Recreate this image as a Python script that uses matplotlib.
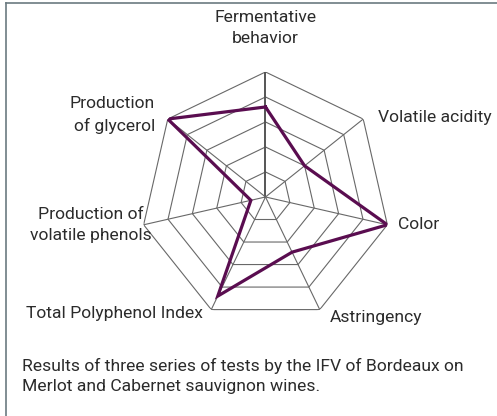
import numpy as np
import matplotlib
matplotlib.use("Agg")
import matplotlib.pyplot as plt
from matplotlib.lines import Line2D

plt.rcParams['font.family'] = ['Roboto', 'DejaVu Sans']

categories = [
    "Fermentative\nbehavior",
    "Volatile acidity",
    "Color",
    "Astringency",
    "Total Polyphenol Index",
    "Production of\nvolatile phenols",
    "Production\nof glycerol",
]
values = [3.6, 2.0, 5.0, 2.45, 4.4, 0.6, 5.0]
levels = [1, 2, 3, 4, 5]
caption = ("Results of three series of tests by the IFV of Bordeaux on\n"
           "Merlot and Cabernet sauvignon wines.")

line_col = '#5a0d50'
grid_col = '#686868'
text_col = '#2b2b2b'

n = len(categories)
angles = np.linspace(0, 2 * np.pi, n, endpoint=False)
closed = np.append(angles, angles[0])

fig = plt.figure(figsize=(4.97, 4.16), dpi=100)
ax = fig.add_axes([0.2827, 0.226, 0.503, 0.601], projection='polar')
ax.set_theta_offset(np.pi / 2)
ax.set_theta_direction(-1)
ax.set_ylim(0, 5)
ax.axis('off')

# rings
for lv in levels:
    ax.plot(closed, [lv] * (n + 1), color=grid_col, lw=0.8, zorder=1)
# spokes
for i, a in enumerate(angles):
    ax.plot([a, a], [0, levels[-1]], color=grid_col if i else '#555555',
            lw=0.8 if i else 1.4, zorder=1)

ax.plot(closed, values + values[:1], color=line_col, lw=2.3, zorder=3,
        solid_joinstyle='miter')

# labels: (offset px, ha, va, multialign)
label_style = [
    ((0, 44), 'center', 'center', 'center'),
    ((15, 2), 'left', 'center', 'left'),
    ((11, 0), 'left', 'center', 'left'),
    ((10, -8), 'left', 'center', 'left'),
    ((-8, -4), 'right', 'center', 'left'),
    ((8, 0), 'right', 'center', 'center'),
    ((-13, 4), 'right', 'center', 'right'),
]
for a, lab, (off, ha, va, ma) in zip(angles, categories, label_style):
    ax.annotate(lab, xy=(a, levels[-1]), xytext=off, textcoords='offset pixels',
                ha=ha, va=va, multialignment=ma, fontsize=12.6, color=text_col,
                linespacing=1.5, annotation_clip=False)

fig.text(22 / 497, 1 - 376 / 416, caption, ha='left', va='center',
         fontsize=12.6, color=text_col, linespacing=1.45)

# frame: left and top edges
fig.add_artist(Line2D([6 / 497, 6 / 497], [0, 1 - 3 / 416], color='#6b7a80', lw=1.2,
                      transform=fig.transFigure))
fig.add_artist(Line2D([6 / 497, 1], [1 - 3 / 416, 1 - 3 / 416], color='#6b7a80', lw=1.2,
                      transform=fig.transFigure))

fig.savefig('out.png', dpi=100)
